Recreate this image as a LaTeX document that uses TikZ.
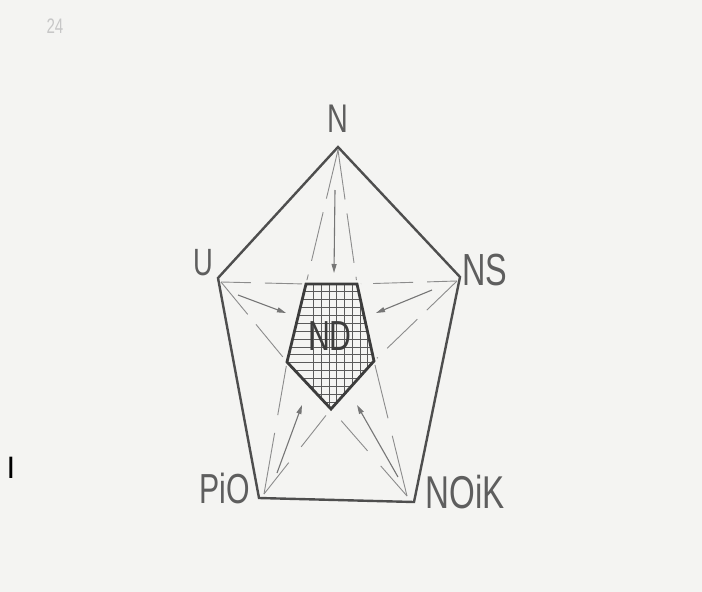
\documentclass[tikz,border=0pt]{standalone}
\usepackage{fontspec}
\setmainfont{Liberation Sans}
\newfontfamily\lblfont[FakeStretch=0.72]{Liberation Sans}
\usetikzlibrary{arrows.meta}
\definecolor{bgcol}{HTML}{F4F4F2}
\definecolor{outercol}{HTML}{4E4E4E}
\definecolor{ndcol}{HTML}{3C3C3C}
\definecolor{starcol}{HTML}{8C8C8C}
\definecolor{arrcol}{HTML}{767676}
\definecolor{txtcol}{HTML}{5E5E5E}
\definecolor{gridcol}{HTML}{5A5A5A}
\begin{document}
\begin{tikzpicture}[x=1pt,y=-1pt,
  outerline/.style={draw=outercol,line width=2.4pt,line join=miter},
  ndline/.style={draw=ndcol,line width=2.8pt,line join=miter},
  starline/.style={draw=starcol,line width=0.9pt,dash pattern=on 50pt off 14pt,shorten >=4pt},
  arrline/.style={draw=arrcol,line width=1.1pt,-{Triangle[length=9pt,width=5pt]}},
  gridline/.style={draw=gridcol,line width=0.7pt},
  lbl/.style={inner sep=0pt,anchor=base,text=txtcol,font=\lblfont\fontsize{#1}{#1}\selectfont},
  lbl/.default=42
]
\fill[bgcol] (0,0) rectangle (702,592);
\useasboundingbox (0,0) rectangle (702,592);

% outer pentagon
\coordinate (N) at (338,147);
\coordinate (U) at (218,278);
\coordinate (NS) at (460,277);
\coordinate (PiO) at (259,498);
\coordinate (NOiK) at (414,502);
% star tips
\coordinate (Nst) at (338,150);
\coordinate (Ust) at (221,282);
\coordinate (NSst) at (457,281);
\coordinate (Pst) at (264,494);
\coordinate (Kst) at (407,496);
% inner pentagon ND
\coordinate (NDtl) at (306,284);
\coordinate (NDtr) at (357,284);
\coordinate (NDr) at (374,361);
\coordinate (NDb) at (331,409);
\coordinate (NDl) at (287,362);

% star lines
\draw[starline] (Nst) -- (NDtl);
\draw[starline] (Nst) -- (NDtr);
\draw[starline,dash pattern=on 30pt off 14pt on 40pt off 12pt] (Ust) -- (NDtl);
\draw[starline,dash pattern=on 30pt off 14pt on 40pt off 12pt] (NSst) -- (NDtr);
\draw[starline,dash pattern=on 42pt off 13pt] (Ust) -- (NDl);
\draw[starline,dash pattern=on 42pt off 13pt] (NSst) -- (NDr);
\draw[starline,dash pattern=on 62pt off 18pt] (Pst) -- (NDl);
\draw[starline,dash pattern=on 62pt off 18pt] (Kst) -- (NDr);
\draw[starline,dash pattern=on 40pt off 20pt] (Pst) -- (NDb);
\draw[starline,dash pattern=on 40pt off 20pt] (Kst) -- (NDb);

% outer pentagon
\draw[outerline] (N) -- (NS) -- (NOiK) -- (PiO) -- (U) -- cycle;

% grid in ND
\begin{scope}
  \clip (NDtl) -- (NDtr) -- (NDr) -- (NDb) -- (NDl) -- cycle;
  \foreach \i in {1,...,11} \draw[gridline] (305.7+7.75*\i,280) -- ++(0,135);
  \foreach \j in {1,...,17} \draw[gridline] (280,283.7+7.9*\j) -- ++(100,0);
\end{scope}
\draw[ndline] (NDtl) -- (NDtr) -- (NDr) -- (NDb) -- (NDl) -- cycle;

% arrows
\coordinate (a1s) at (335,190); \coordinate (a1e) at (334,273);
\coordinate (a2s) at (238,295); \coordinate (a2e) at (286,313);
\coordinate (a3s) at (432,290); \coordinate (a3e) at (376,313);
\coordinate (a4s) at (277,473); \coordinate (a4e) at (302,405);
\coordinate (a5s) at (398,477); \coordinate (a5e) at (357,405);
\draw[arrline] (a1s) -- (a1e);
\draw[arrline] (a2s) -- (a2e);
\draw[arrline] (a3s) -- (a3e);
\draw[arrline] (a4s) -- (a4e);
\draw[arrline] (a5s) -- (a5e);

% labels
\node[lbl=40] (lN) at (338,132) {N};
\node[lbl=38] (lU) at (203,275) {U};
\node[lbl=45] (lNS) at (485,285) {NS};
\node[lbl=42] (lPiO) at (225,503) {PiO};
\node[lbl=46] (lNOiK) at (465,508) {NOiK};
\node[lbl=42,text=ndcol] (lND) at (330,350) {ND};

% page number and stray mark
\node[inner sep=0pt,anchor=base,text=black!22,font=\lblfont\fontsize{21}{21}\selectfont] (pg) at (55,33) {24};
\node[inner sep=0pt,anchor=base,text=black,font=\fontsize{31}{31}\selectfont] (bar) at (11,478) {I};
\end{tikzpicture}
\end{document}
